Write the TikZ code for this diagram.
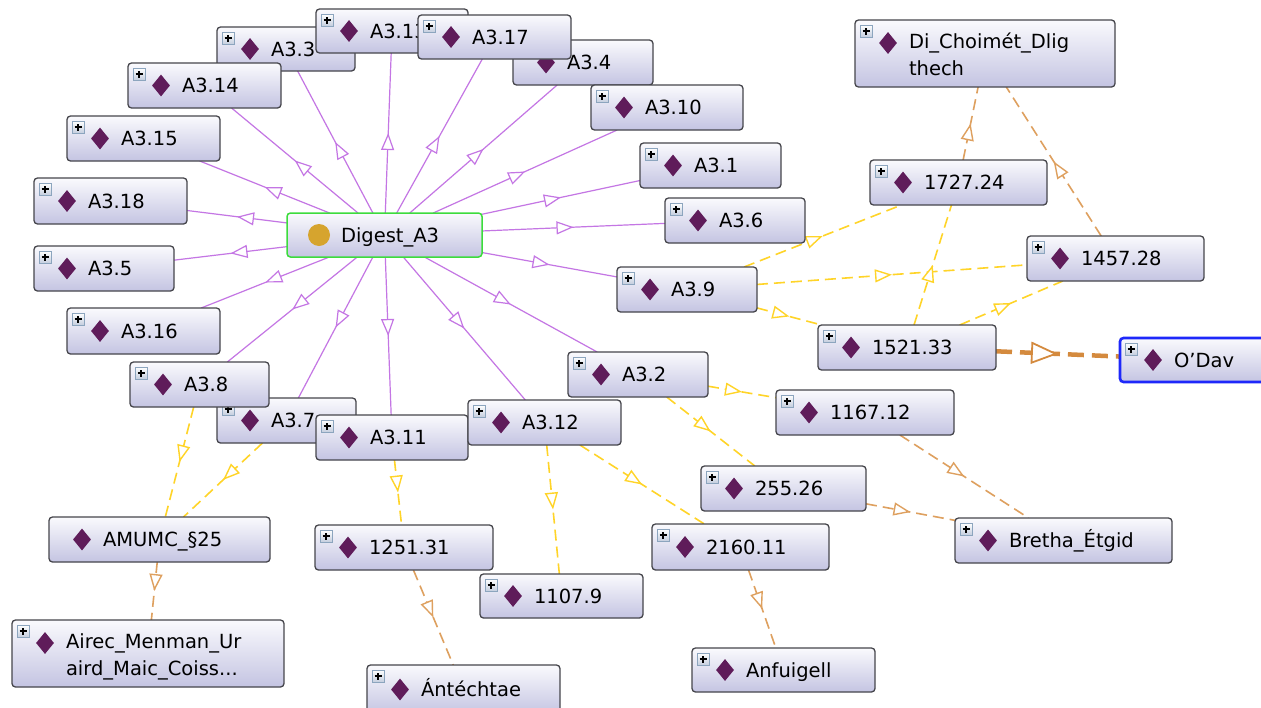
\documentclass[tikz,border=0pt]{standalone}
\usepackage{fontspec}
\setmainfont{DejaVu Sans}
\usetikzlibrary{arrows.meta,decorations.markings,shapes.geometric}
\pgfdeclarelayer{bg}
\pgfsetlayers{bg,main}

\definecolor{edgepurple}{RGB}{196,118,228}
\definecolor{edgeyellow}{RGB}{255,212,40}
\definecolor{edgeorange}{RGB}{222,160,95}
\definecolor{edgeorangedark}{RGB}{212,138,62}
\definecolor{boxtop}{RGB}{250,250,253}
\definecolor{boxbot}{RGB}{196,196,226}
\definecolor{boxline}{RGB}{70,70,76}
\definecolor{diam}{RGB}{95,28,90}
\definecolor{goldc}{RGB}{214,164,46}
\definecolor{plusline}{RGB}{140,165,190}
\definecolor{plusbot}{RGB}{196,206,222}
\definecolor{selblue}{RGB}{30,40,250}
\definecolor{selgreen}{RGB}{60,220,60}

\tikzset{
  ibox/.style={rectangle, rounded corners=3.5pt, draw=boxline, line width=1.3pt,
    top color=boxtop, bottom color=boxbot, inner sep=0pt, outer sep=0pt},
  lbl/.style={inner sep=0pt, outer sep=0pt, font=\fontsize{19.5}{27}\selectfont, text=black},
  diamk/.style={diamond, fill=diam, minimum width=18pt, minimum height=22pt, inner sep=0pt},
  plusbox/.style={rectangle, minimum size=12pt, inner sep=0pt, draw=plusline, line width=0.8pt,
    top color=white, bottom color=plusbot,
    path picture={\draw[black,line width=1.1pt]
      (path picture bounding box.center) ++(-3.5pt,0pt) -- ++(7pt,0pt)
      (path picture bounding box.center) ++(0pt,-3.5pt) -- ++(0pt,7pt);}},
  pedge/.style={draw=edgepurple, line width=1.2pt,
    decoration={markings, mark=at position 0.5 with {\arrow{Triangle[open, fill=white, length=17pt, width=13pt, line width=1.2pt]}}},
    postaction=decorate},
  yedge/.style={draw=edgeyellow, line width=1.6pt, dash pattern=on 11pt off 6pt,
    decoration={markings, mark=at position 0.5 with {\arrow{Triangle[open, fill=white, length=17pt, width=13pt, line width=1.4pt]}}},
    postaction=decorate},
  oedge/.style={draw=edgeorange, line width=1.6pt, dash pattern=on 11pt off 6pt,
    decoration={markings, mark=at position 0.5 with {\arrow{Triangle[open, fill=white, length=17pt, width=13pt, line width=1.4pt]}}},
    postaction=decorate},
  oboldedge/.style={draw=edgeorangedark, line width=4.5pt, dash pattern=on 16pt off 8pt,
    decoration={markings, mark=at position 0.5 with {\arrow{Triangle[open, fill=white, length=27pt, width=22pt, line width=1.8pt]}}},
    postaction=decorate},
}

% name, x1, y1, x2, y2, label   (single line, with expand icon)
\newcommand\inst[6]{%
  \node[ibox, minimum width={#4-#2}, minimum height={#5-#3}] (#1) at ({(#2+#4)/2},{(#3+#5)/2}) {};
  \node[plusbox] (#1p) at ([xshift=11pt,yshift=-11pt]#1.north west) {};
  \node[diamk] (#1d) at ([xshift=33pt]#1.west) {};
  \node[lbl, anchor=base west] (#1t) at ([xshift=54pt,yshift=-7pt]#1.west) {#6};
}
% without expand icon
\newcommand\instnp[6]{%
  \node[ibox, minimum width={#4-#2}, minimum height={#5-#3}] (#1) at ({(#2+#4)/2},{(#3+#5)/2}) {};
  \node[diamk] (#1d) at ([xshift=33pt]#1.west) {};
  \node[lbl, anchor=base west] (#1t) at ([xshift=54pt,yshift=-7pt]#1.west) {#6};
}
% two-line label
\newcommand\insttwo[7]{%
  \node[ibox, minimum width={#4-#2}, minimum height={#5-#3}] (#1) at ({(#2+#4)/2},{(#3+#5)/2}) {};
  \node[plusbox] (#1p) at ([xshift=11pt,yshift=-11pt]#1.north west) {};
  \node[diamk] (#1d) at ([xshift=33pt,yshift=-23pt]#1.north west) {};
  \node[lbl, anchor=base west] (#1t) at ([xshift=54pt,yshift=-28pt]#1.north west)
    {\begin{tabular}[t]{@{}l@{}}#6\\#7\end{tabular}};
}

\begin{document}
\begin{tikzpicture}[x=1pt,y=-1pt]
\useasboundingbox (0,0) rectangle (1261,707);
\begin{pgfonlayer}{bg}
  \fill[white] (0,0) rectangle (1261,707);
\end{pgfonlayer}

% central class
\node[ibox, draw=selgreen, line width=1.5pt, minimum width=195, minimum height=44] (dig) at ({(287+482)/2},{(213+257)/2}) {};
\fill[goldc] ([xshift=32pt]dig.west) circle (11pt);
\node[lbl, anchor=base west] (digt) at ([xshift=54pt,yshift=-7pt]dig.west) {Digest\_A3};

% top fan
\inst{a33}{217}{27}{355}{71}{A3.3}
\inst{a314}{128}{63}{281}{108}{A3.14}
\inst{a313}{316}{9}{468}{53}{A3.13}
\inst{a34}{513}{40}{653}{85}{A3.4}
\inst{a317}{418}{15}{571}{59}{A3.17}
\inst{a310}{591}{85}{743}{130}{A3.10}
\inst{a31}{640}{143}{781}{188}{A3.1}
\inst{a36}{665}{198}{805}{243}{A3.6}
\inst{a39}{617}{267}{757}{312}{A3.9}
\inst{a315}{67}{116}{220}{161}{A3.15}
\inst{a318}{34}{178}{187}{224}{A3.18}
\inst{a35}{34}{246}{174}{291}{A3.5}
\inst{a316}{67}{308}{220}{354}{A3.16}
\inst{a37}{217}{398}{356}{443}{A3.7}
\inst{a38}{130}{362}{269}{407}{A3.8}
\inst{a311}{316}{415}{468}{460}{A3.11}
\inst{a312}{468}{400}{621}{445}{A3.12}
\inst{a32}{568}{352}{708}{397}{A3.2}

% right side
\insttwo{dich}{855}{20}{1115}{87}{Di\_Choimét\_Dlig}{thech}
\inst{n172724}{870}{160}{1047}{205}{1727.24}
\inst{n145728}{1027}{236}{1204}{281}{1457.28}
\inst{n152133}{818}{325}{996}{370}{1521.33}
\inst{odav}{1120}{338}{1282}{382}{O’Dav}
\draw[selblue, line width=2.6pt, rounded corners=3.5pt] (odav.north east) -- (odav.north west) -- (odav.south west) -- (odav.south east);
\inst{n116712}{776}{390}{954}{435}{1167.12}
\inst{n25526}{701}{466}{866}{511}{255.26}
\inst{bretha}{955}{518}{1172}{563}{Bretha\_Étgid}
\inst{n216011}{652}{524}{829}{570}{2160.11}
\inst{anf}{692}{648}{875}{692}{Anfuigell}

% bottom left
\inst{n11079}{480}{574}{643}{618}{1107.9}
\inst{n125131}{315}{525}{493}{570}{1251.31}
\inst{ant}{367}{665}{560}{714}{Ántéchtae}
\instnp{amumc}{49}{517}{270}{562}{AMUMC\_§25}
\insttwo{airec}{12}{620}{284}{687}{Airec\_Menman\_Ur}{aird\_Maic\_Coiss...}

\begin{pgfonlayer}{bg}
  \foreach \t in {a33,a314,a313,a34,a317,a310,a31,a36,a39,a315,a318,a35,a316,a37,a38,a311,a312,a32}
    \draw[pedge] (dig) -- (\t);
  \draw[yedge] (a39) -- (n172724);
  \draw[yedge] (a39) -- (n145728);
  \draw[yedge] (a39) -- (n152133);
  \draw[yedge] (n152133) -- (n172724);
  \draw[yedge] (n152133) -- (n145728);
  \draw[yedge] (a32) -- (n116712);
  \draw[yedge] (a32) -- (n25526);
  \draw[yedge] (a312) -- (n216011);
  \draw[yedge] (a312) -- (n11079);
  \draw[yedge] (a311) -- (n125131);
  \draw[yedge] (a38) -- (amumc);
  \draw[yedge] (a37) -- (amumc);
  \draw[oedge] (amumc) -- (airec);
  \draw[oedge] (n125131) -- (ant);
  \draw[oedge] (n216011) -- (anf);
  \draw[oedge] (n25526) -- (bretha);
  \draw[oedge] (n116712) -- (bretha);
  \draw[oedge] (n145728) -- (dich);
  \draw[oedge] (n172724) -- (dich);
  \draw[oboldedge] (n152133) -- (odav);
\end{pgfonlayer}
\end{tikzpicture}
\end{document}
